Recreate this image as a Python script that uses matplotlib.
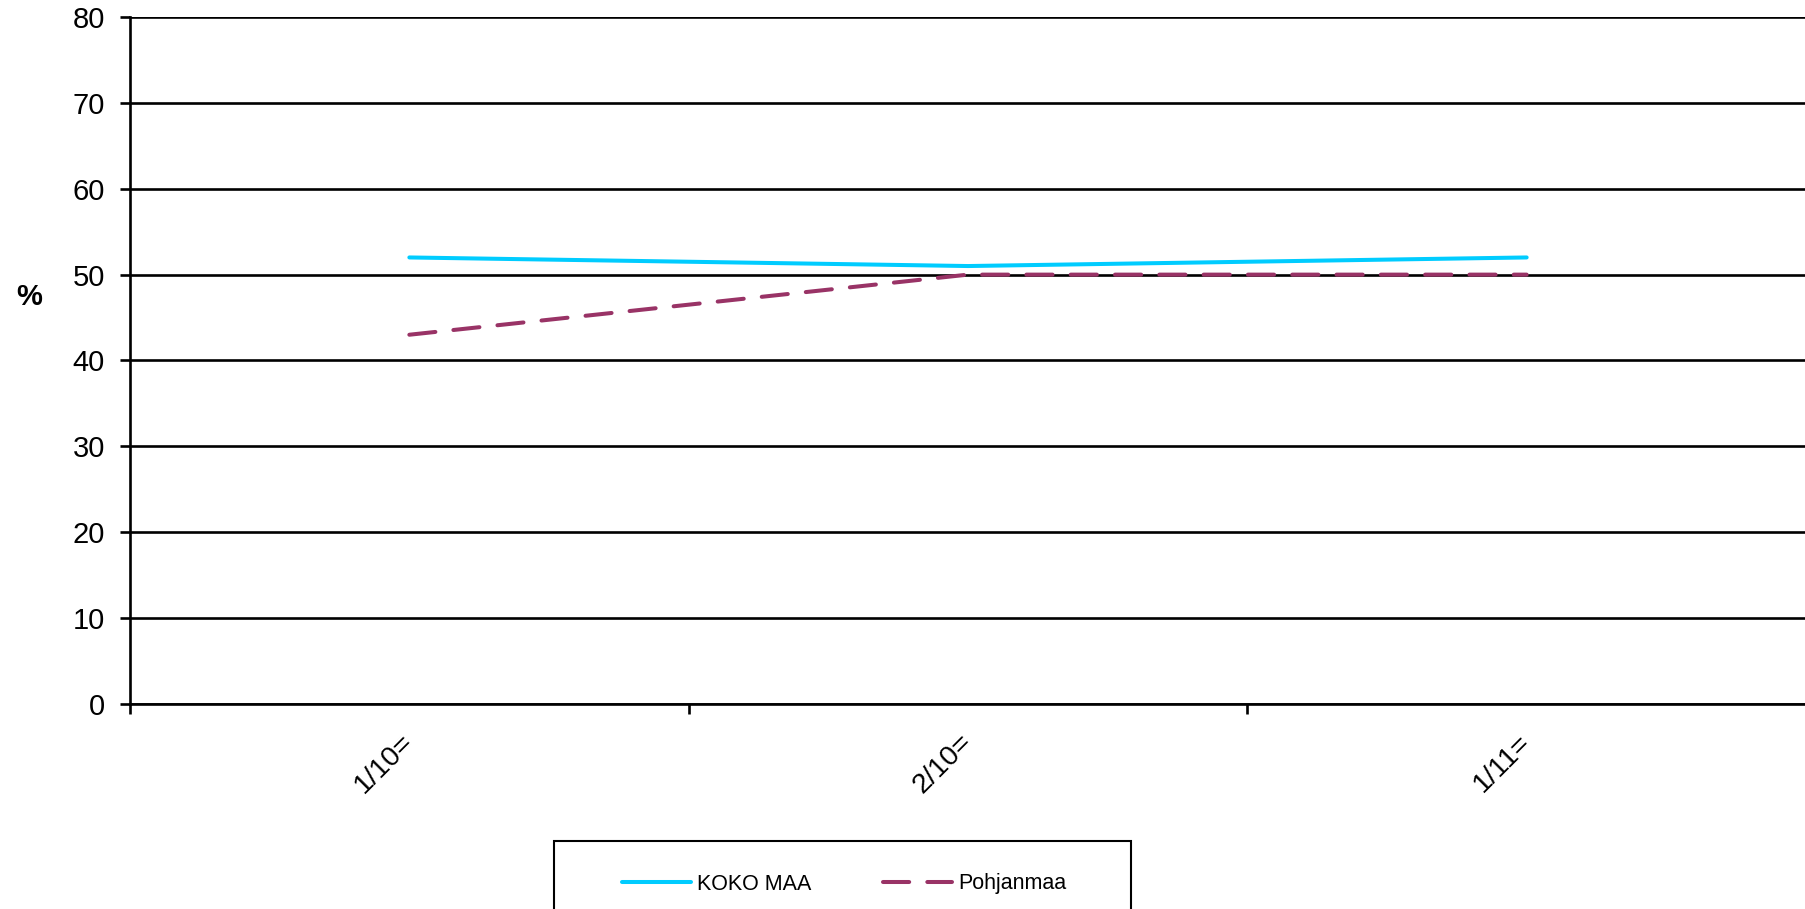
#!/usr/bin/env python3

"""Line chart: KOKO MAA vs Pohjanmaa, percent by period.
"""

import matplotlib
matplotlib.use('Agg')
import matplotlib.pyplot as plt
import matplotlib.patches as mpatches

periods = ['1/10=', '2/10=', '1/11=']
koko_maa = [52, 51, 52]
pohjanmaa = [43, 50, 50]

plt.rcParams['font.family'] = ['Liberation Sans', 'DejaVu Sans']

W, H = 1806, 909
fig = plt.figure(figsize=(W / 100, H / 100), dpi=100)
ax = fig.add_axes([130 / W, 1 - 704 / H, 1 - 130 / W, (704 - 17) / H])

x = list(range(1, len(periods) + 1))
ax.plot(x, koko_maa, color='#00CCFF', lw=2.9, solid_capstyle='round',
        label='KOKO MAA', zorder=3)
ax.plot(x, pohjanmaa, color='#993366', lw=2.9, dashes=(6.5, 4.5),
        dash_capstyle='round', label='Pohjanmaa', zorder=3)

ax.set_xlim(0.5, len(periods) + 0.5)
ax.set_ylim(0, 80)
ax.set_yticks(range(0, 81, 10))
ax.yaxis.grid(True, color='black', lw=1.9)
ax.set_axisbelow(True)

# ticks on category borders, labels at centres
ax.set_xticks([i + 0.5 for i in range(len(periods) + 1)])
ax.set_xticklabels([])
ax.set_xticks(x, minor=True)
ax.set_xticklabels(periods, minor=True, rotation=45, ha='right',
                   va='center', fontsize=20.5)
for lbl in ax.get_xticklabels(minor=True):
    lbl.set_rotation_mode('anchor')
ax.tick_params(axis='x', which='minor', length=0, pad=25)
ax.tick_params(axis='x', which='major', length=7, width=1.9, direction='out')
ax.tick_params(axis='y', length=7, width=1.9, pad=11, labelsize=21)

for side in ['top', 'right']:
    ax.spines[side].set_visible(False)
for side in ['left', 'bottom']:
    ax.spines[side].set_linewidth(1.9)

ax.set_ylabel('%', rotation=0, fontsize=21, fontweight='bold',
              ha='center', va='center')
ax.yaxis.set_label_coords(-0.060, 0.592)

# legend box runs off the bottom of the figure
box = mpatches.Rectangle((554 / W, -0.05), 577 / W, (909 - 841) / H + 0.05,
                         transform=fig.transFigure, fill=False,
                         edgecolor='black', lw=1.5, clip_on=False)
fig.patches.append(box)
fig.legend(loc='center left', bbox_to_anchor=(622 / W, 1 - 884 / H),
           ncol=2, frameon=False, fontsize=15.5, handlelength=3.2,
           handletextpad=0.3, columnspacing=3.3, borderpad=0,
           borderaxespad=0)

plt.savefig('out.png', dpi=100)
